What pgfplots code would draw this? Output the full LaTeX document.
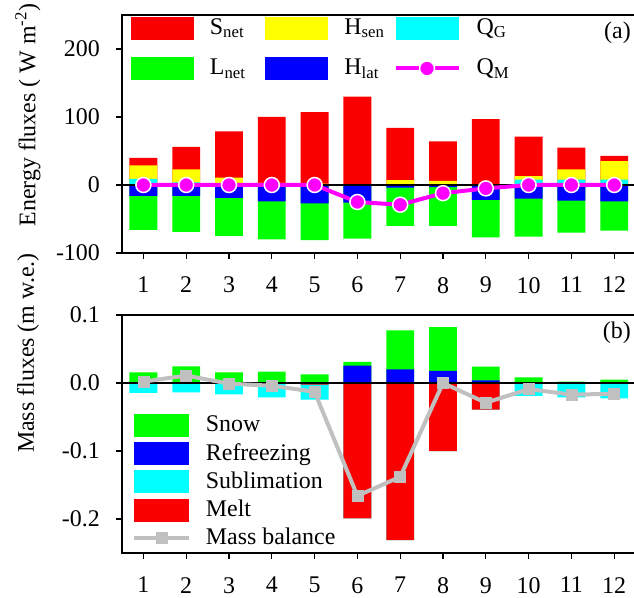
\documentclass[border=0pt]{standalone}
\usepackage{fontspec}
\setmainfont{Liberation Serif}
\usepackage{pgfplots}
\usepackage{pgfplotstable}
\pgfplotsset{compat=1.18}

\definecolor{cR}{RGB}{250,0,0}
\definecolor{cY}{RGB}{255,255,0}
\definecolor{cC}{RGB}{0,255,255}
\definecolor{cG}{RGB}{0,255,0}
\definecolor{cB}{RGB}{0,0,255}
\definecolor{cM}{RGB}{255,0,255}
\definecolor{cGr}{RGB}{192,192,192}

% month QG Hsen Snet Hlat Lnet QM   (W m^-2)
\pgfplotstableread{
m  QG  Hsen Snet Hlat Lnet QM
1  9   20   11   -16  -50  0
2  4   19   33   -16  -53  0
3  2   9    68   -19  -56  0
4  1   2    97   -24  -56  0
5  1   1    105  -27  -54  0
6  0   0    130  -26  -53  -25
7  1   6    77   -4   -56  -29
8  1   5    58   -3   -57  -12
9  0   1    96   -22  -55  -5
10 8   5    58   -20  -56  0
11 8   15   32   -23  -47  0
12 8   27   8    -24  -43  0
}\energy

% month Refr Snow Melt Subl MB   (m w.e.)
\pgfplotstableread{
m  Refr   Snow    Melt    Subl    MB
1  0      0.0157  0       -0.0147 0.002
2  0      0.0245  0       -0.0137 0.011
3  0      0.0157  0       -0.0167 -0.001
4  0      0.0167  0       -0.021  -0.004
5  0      0.0127  -0.0025 -0.022  -0.013
6  0.0255 0.0055  -0.199  0       -0.166
7  0.020  0.0575  -0.231  0       -0.138
8  0.018  0.064   -0.100  0       0.000
9  0.004  0.020   -0.039  0       -0.029
10 0      0.0083  0       -0.019  -0.009
11 0      0.002   0       -0.021  -0.017
12 0      0.005   0       -0.0225 -0.016
}\mass

\pgfplotsset{
  common/.style={
    scale only axis, width=513.6bp, height=238bp,
    xmin=0.5, xmax=12.5,
    xtick={1,2,3,4,5,6,7,8,9,10,11,12},
    xticklabels={1,2,3,4,5,6,7,8,9,10,11,12},
    tick pos=left, tick align=outside, major tick length=6bp,
    axis line style={line width=1.2bp},
    every tick/.style={black, line width=1.2bp},
    xticklabel style={yshift=-10bp},
    yticklabel style={xshift=-8bp},
    legend cell align=left,
  },
  mybar/.style={ybar, bar width=0.65, bar shift=0pt, draw=none, fill=#1,
    legend image code/.code={\fill[fill=#1,draw=none] (0bp,-11.5bp) rectangle (63bp,11.5bp);}},
  mybarb/.style={ybar, bar width=0.65, bar shift=0pt, draw=none, fill=#1,
    legend image code/.code={\fill[fill=#1,draw=none] (0bp,-11.5bp) rectangle (55bp,11.5bp);}},
  linelegA/.style={legend image code/.code={\draw[mark repeat=2,mark phase=2,##1] plot coordinates {(0bp,0bp) (31.5bp,0bp) (63bp,0bp)};}},
  linelegB/.style={legend image code/.code={\draw[mark repeat=2,mark phase=2,##1] plot coordinates {(0bp,0bp) (27.5bp,0bp) (55bp,0bp)};}},
}

\begin{document}
\fontsize{24}{28}\selectfont
\begin{tikzpicture}
\begin{axis}[common, at={(122bp,345bp)}, anchor=south west,
  ymin=-100, ymax=250, ytick={-100,0,100,200}, yticklabels={-100,0,100,200},
  ylabel={Energy fluxes ( W m\textsuperscript{-2})},
  ylabel style={at={(axis description cs:-0.183,0.58)}, anchor=center},
  legend columns=3,
  legend style={at={(axis description cs:0.017,0.995)}, anchor=north west, draw=none, fill=none,
    row sep=17bp, inner sep=0pt,
    /tikz/every odd column/.append style={column sep=14bp},
    /tikz/column 2/.append style={column sep=18bp},
    /tikz/column 4/.append style={column sep=7bp}},
]
\addplot[mybar=cR] table[x=m, y expr=\thisrow{QG}+\thisrow{Hsen}+\thisrow{Snet}] {\energy};
\addlegendentry{S\textsubscript{net}}
\addplot[mybar=cY] table[x=m, y expr=\thisrow{QG}+\thisrow{Hsen}] {\energy};
\addlegendentry{H\textsubscript{sen}}
\addplot[mybar=cC] table[x=m, y=QG] {\energy};
\addlegendentry{Q\textsubscript{G}}
\addplot[mybar=cG] table[x=m, y expr=\thisrow{Hlat}+\thisrow{Lnet}] {\energy};
\addlegendentry{L\textsubscript{net}}
\addplot[mybar=cB] table[x=m, y=Hlat] {\energy};
\addlegendentry{H\textsubscript{lat}}
\addplot[black, line width=1.4bp, forget plot] coordinates {(0.5,0) (12.5,0)};
\addplot[cM, line width=4bp, mark=*, mark size=7.5bp,
  mark options={fill=cM, draw=white, line width=1.5bp}, linelegA]
  table[x=m, y=QM] {\energy};
\addlegendentry{Q\textsubscript{M}}
\node[anchor=north east, inner sep=0pt] at (axis description cs:0.991,0.97) {(a)};
\end{axis}

\begin{axis}[common, at={(122bp,45bp)}, anchor=south west,
  ymin=-0.25, ymax=0.1, ytick={-0.2,-0.1,0,0.1}, yticklabels={-0.2,-0.1,0.0,0.1},
  ylabel={Mass fluxes (m w.e.)},
  ylabel style={at={(axis description cs:-0.183,0.84)}, anchor=center},
  legend style={at={(axis description cs:0.019,0.585)}, anchor=north west, draw=none, fill=none,
    row sep=4bp, inner sep=0pt,
    /tikz/every odd column/.append style={column sep=13bp}},
]
\addplot[mybarb=cG] table[x=m, y expr=\thisrow{Refr}+\thisrow{Snow}] {\mass};
\addlegendentry{Snow}
\addplot[mybarb=cB] table[x=m, y=Refr] {\mass};
\addlegendentry{Refreezing}
\addplot[mybarb=cC] table[x=m, y expr=\thisrow{Melt}+\thisrow{Subl}] {\mass};
\addlegendentry{Sublimation}
\addplot[mybarb=cR] table[x=m, y=Melt] {\mass};
\addlegendentry{Melt}
\addplot[black, line width=1.4bp, forget plot] coordinates {(0.5,0) (12.5,0)};
\addplot[cGr, line width=4bp, mark=square*, mark size=5.5bp,
  mark options={fill=cGr, draw=cGr, line width=0.5bp}, linelegB]
  table[x=m, y=MB] {\mass};
\addlegendentry{Mass balance}
\node[anchor=north east, inner sep=0pt] at (axis description cs:0.991,0.97) {(b)};
\end{axis}
\pgfresetboundingbox
\path[use as bounding box] (0bp,0bp) rectangle (634bp,598bp);
\end{tikzpicture}
\end{document}
